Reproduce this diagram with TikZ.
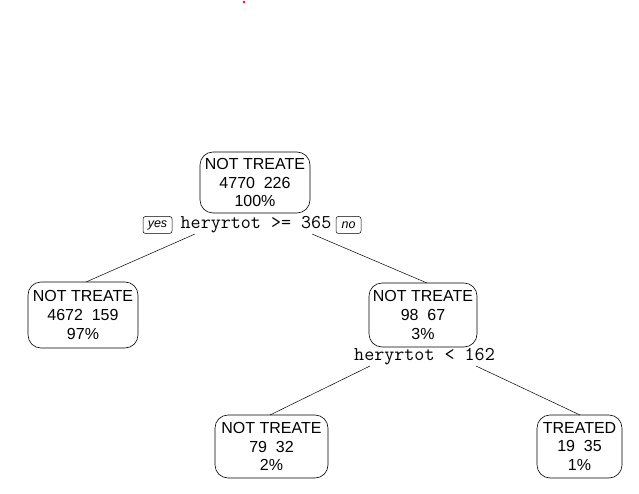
\documentclass[tikz,border=0pt]{standalone}
\usepackage{fontspec}
\setmainfont{Liberation Sans}
\begin{document}
\begin{tikzpicture}[x=1pt,y=-1pt,
  leaf/.style={draw, rounded corners=13pt, line width=0.6pt, align=center, inner sep=0pt,
    font=\fontsize{16}{18.8}\selectfont},
  split/.style={font=\ttfamily\fontsize{19.5}{20}\selectfont, inner sep=0pt},
  tag/.style={draw, rounded corners=2.5pt, line width=0.5pt, inner sep=0pt,
    minimum height=17pt, font=\itshape\fontsize{12.5}{14}\selectfont},
  edge/.style={line width=0.5pt}]
\useasboundingbox (0,0) rectangle (639,494);
\fill[red] (244,2) circle (1.4);
\node[leaf, minimum width=110pt, minimum height=61pt] (root) at (255,182.5) {NOT TREATE\\4770\hspace{0.55em}226\\100\%};
\node[split] (s1) at (256,225) {heryrtot >= 365};
\node[tag, minimum width=29pt] (yes) at (157.5,225) {yes};
\node[tag, minimum width=25pt] (no) at (348.5,225) {no};
\node[leaf, minimum width=110pt, minimum height=66pt] (l) at (83,315) {NOT TREATE\\4672\hspace{0.55em}159\\97\%};
\node[leaf, minimum width=108pt, minimum height=64pt] (r) at (423,315) {NOT TREATE\\98\hspace{0.55em}67\\3\%};
\node[split] (s2) at (424.5,357) {heryrtot < 162};
\node[leaf, minimum width=113pt, minimum height=63pt] (rl) at (271.5,446.5) {NOT TREATE\\79\hspace{0.55em}32\\2\%};
\node[leaf, minimum width=85pt, minimum height=63pt] (rr) at (579.5,446.5) {TREATED\\19\hspace{0.55em}35\\1\%};
\coordinate (a1) at (195,234);
\coordinate (a2) at (86,282);
\coordinate (b1) at (312,234);
\coordinate (b2) at (427,283);
\coordinate (c1) at (370,366);
\coordinate (c2) at (270,415);
\coordinate (d1) at (476,366);
\coordinate (d2) at (580,415);
\draw[edge] (a1) -- (a2);
\draw[edge] (b1) -- (b2);
\draw[edge] (c1) -- (c2);
\draw[edge] (d1) -- (d2);
\end{tikzpicture}
\end{document}
